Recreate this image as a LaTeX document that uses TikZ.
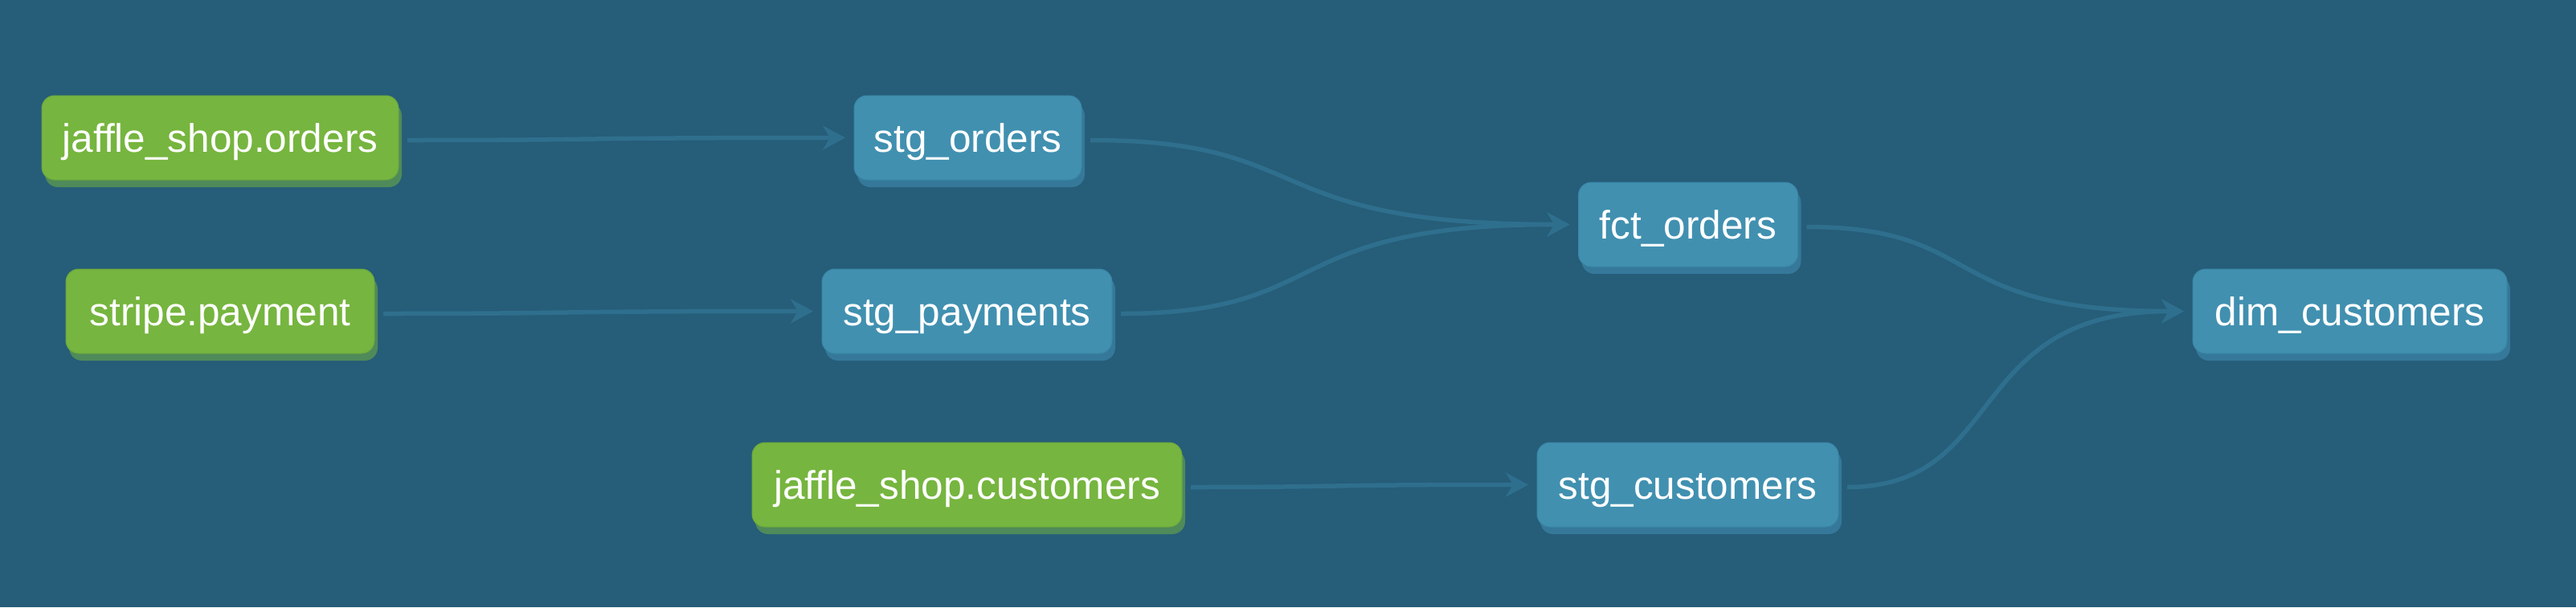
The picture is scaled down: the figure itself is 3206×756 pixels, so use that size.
\documentclass[tikz,border=0pt]{standalone}
\usepackage{fontspec}
\setmainfont{Liberation Sans}
\usetikzlibrary{arrows.meta,shadows,calc}
\definecolor{bgc}{HTML}{265D78}
\definecolor{linec}{HTML}{2F6F8E}
\definecolor{bluec}{HTML}{4190B0}
\definecolor{blueedge}{HTML}{3A86A6}
\definecolor{blueshadow}{HTML}{35789A}
\definecolor{greenc}{HTML}{76B53F}
\definecolor{greenedge}{HTML}{6AA63F}
\definecolor{greenshadow}{HTML}{4F8A5A}
\newcommand\linkedge[2]{%
  \draw[edge] let \p1=([yshift=-3pt]#1.east), \p2=(#2.west),
    \n1={0.52*\x1+0.48*\x2}, \n2={0.66*\x1+0.34*\x2} in
    (\p1) .. controls (\n1,\y1) and (\n2,\y2) .. (\p2);}
\begin{document}
\begin{tikzpicture}[x=1pt,y=-1pt,
  box/.style={rectangle, rounded corners=16pt, minimum height=105pt, inner sep=0pt,
    outer xsep=11pt, text=white, font=\fontsize{49.5}{60}\selectfont,
    text height=35pt, text depth=0pt, line width=1pt},
  srcbox/.style={box, fill=greenc, draw=greenedge,
    general shadow={shadow xshift=4pt, shadow yshift=-9pt, fill=greenshadow, draw=none}},
  mdlbox/.style={box, fill=bluec, draw=blueedge,
    general shadow={shadow xshift=4pt, shadow yshift=-9pt, fill=blueshadow, draw=none}},
  edge/.style={draw=linec, line width=5.5pt, -{Stealth[length=28pt,width=30pt,inset=9pt]}}]
\fill[bgc] (0,0) rectangle (3206,756);
\useasboundingbox (0,0) rectangle (3206,756);

\node[srcbox, minimum width=444pt] (jso) at (274,171.5) {jaffle\_shop.orders};
\node[srcbox, minimum width=384pt] (sp) at (274,387.5) {stripe.payment};
\node[srcbox, minimum width=535pt] (jsc) at (1203.5,603.5) {jaffle\_shop.customers};

\node[mdlbox, minimum width=283pt] (so) at (1204.5,171.5) {stg\_orders};
\node[mdlbox, minimum width=361pt] (spay) at (1203.5,387.5) {stg\_payments};
\node[mdlbox, minimum width=375pt] (sc) at (2100.5,603.5) {stg\_customers};
\node[mdlbox, minimum width=273pt] (fct) at (2101,279.5) {fct\_orders};
\node[mdlbox, minimum width=391pt] (dim) at (2924.5,387.5) {dim\_customers};

\linkedge{jso}{so}
\linkedge{sp}{spay}
\linkedge{jsc}{sc}
\linkedge{so}{fct}
\linkedge{spay}{fct}
\linkedge{fct}{dim}
\linkedge{sc}{dim}
\end{tikzpicture}
\end{document}
